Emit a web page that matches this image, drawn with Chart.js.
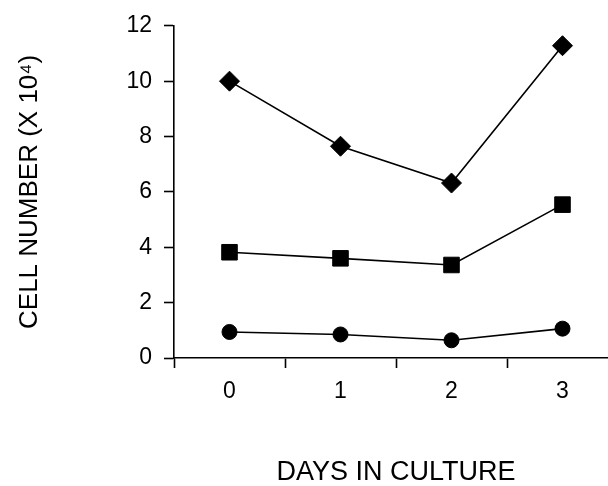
<!DOCTYPE html>
<html>
<head>
<meta charset="utf-8">
<script src="https://cdn.jsdelivr.net/npm/chart.js@4"></script>
<style>
  html, body { margin: 0; padding: 0; background: #fff; overflow: hidden; width: 608px; height: 486px; }
  #wrap { width: 630px; height: 486px; }
</style>
</head>
<body>
<div id="wrap"><canvas id="c" width="630" height="486"></canvas></div>
<script>
const days = ['0', '1', '2', '3'];
const diamondSeries = [10.0, 7.65, 6.32, 11.28];
const squareSeries = [3.82, 3.6, 3.36, 5.54];
const circleSeries = [0.94, 0.85, 0.64, 1.06];
const yMin = 0, yMax = 12, yStep = 2;
const xTitle = 'DAYS IN CULTURE';
const yTitle = 'CELL NUMBER (X 10\u2074)';

const FONT = '"Liberation Sans", Arial, Helvetica, sans-serif';

function series(data, style, radius) {
  return {
    data: data,
    borderColor: '#000',
    borderWidth: 1.6,
    backgroundColor: '#000',
    pointStyle: style,
    pointRadius: radius,
    pointHoverRadius: radius,
    pointBackgroundColor: '#000',
    pointBorderColor: '#000',
    pointBorderWidth: 1,
    tension: 0,
    fill: false
  };
}

new Chart(document.getElementById('c'), {
  type: 'line',
  data: {
    labels: days,
    datasets: [
      series(diamondSeries, 'rectRot', 10),
      series(squareSeries, 'rect', 11),
      series(circleSeries, 'circle', 7.5)
    ]
  },
  options: {
    responsive: false,
    animation: false,
    events: [],
    layout: { padding: { top: 21, right: 12, left: 0, bottom: 0 } },
    plugins: { legend: { display: false }, tooltip: { enabled: false } },
    scales: {
      x: {
        type: 'category',
        offset: true,
        border: { display: true, color: '#000', width: 1.6 },
        grid: { offset: true, drawOnChartArea: false, drawTicks: true, tickLength: 10, tickColor: '#000', tickWidth: 1.6 },
        ticks: { color: '#000', font: { family: FONT, size: 23 }, padding: 10, maxRotation: 0 },
        title: { display: true, text: xTitle, color: '#000', font: { family: FONT, size: 27, lineHeight: 1 }, padding: { top: 0, bottom: 0 } },
        afterFit: (s) => { s.height = 486 - 358; }
      },
      y: {
        min: yMin,
        max: yMax,
        border: { display: true, color: '#000', width: 1.6 },
        grid: { drawOnChartArea: false, drawTicks: true, tickLength: 10, tickColor: '#000', tickWidth: 1.6 },
        ticks: { stepSize: yStep, color: '#000', font: { family: FONT, size: 23 }, padding: 12 },
        title: { display: true, text: yTitle, color: '#000', font: { family: FONT, size: 26, lineHeight: 1 }, padding: { top: 17, bottom: 0 } },
        afterFit: (s) => { s.width = 174; }
      }
    }
  }
});
</script>
</body>
</html>
